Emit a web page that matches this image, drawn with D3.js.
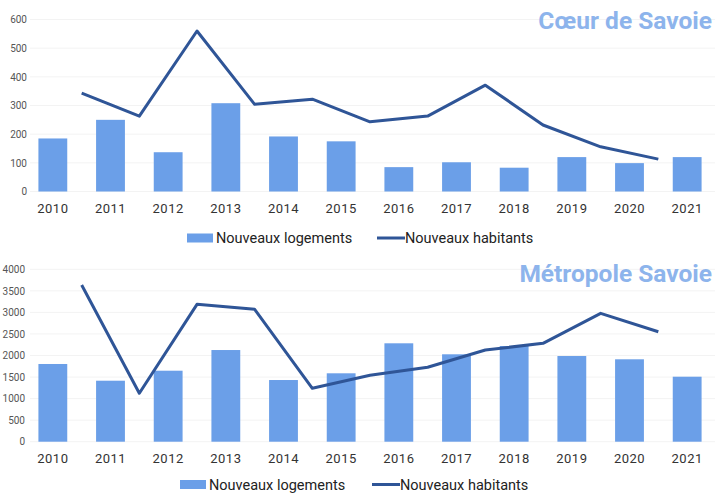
<!DOCTYPE html>
<html>
<head>
<meta charset="utf-8">
<script src="https://cdn.jsdelivr.net/npm/d3@7"></script>
<style>
  body { margin: 0; background: #fff; }
  svg { display: block; font-family: Roboto, "Noto Sans", sans-serif; }
</style>
</head>
<body>
<div id="chart-area"></div>
<script>
// years shown on the x axis
let years = ["2010", "2011", "2012", "2013", "2014", "2015", "2016", "2017", "2018", "2019", "2020", "2021"];

// Coeur de Savoie
let coeurLogements = [185, 250, 137, 308, 192, 175, 85, 102, 83, 120, 99, 120];
// new inhabitants are drawn between two years (2010/2011 ... 2020/2021)
let coeurHabitants = [343, 263, 560, 304, 322, 243, 263, 371, 232, 156, 113];
let coeurTicks = [0, 100, 200, 300, 400, 500, 600];

// Metropole Savoie
let metroLogements = [1803, 1415, 1647, 2127, 1431, 1587, 2283, 2028, 2220, 1988, 1912, 1508];
let metroHabitants = [3635, 1123, 3187, 3071, 1239, 1540, 1726, 2127, 2283, 2979, 2552];
let metroTicks = [0, 500, 1000, 1500, 2000, 2500, 3000, 3500, 4000];

let barColor = "#6b9fe8",
    lineColor = "#2f5597",
    titleColor = "#8db4ec";

let svg = d3.select("#chart-area")
    .append("svg")
    .attr("width", 715)
    .attr("height", 494);

function drawPanel(opts) {
    let g = svg.append("g");

    let x = d3.scaleBand()
        .domain(years)
        .range([24, 716])
        .paddingInner(0.5)
        .paddingOuter(0.25);

    let y = d3.scaleLinear()
        .domain([0, d3.max(opts.ticks)])
        .range([opts.bottom, opts.top]);

    // faint gridlines
    g.selectAll(".grid")
        .data(opts.ticks)
        .enter()
        .append("line")
        .attr("x1", 30)
        .attr("x2", 715)
        .attr("y1", d => y(d))
        .attr("y2", d => y(d))
        .attr("stroke", "#f3f3f3")
        .attr("stroke-width", 1);

    // y axis
    let yAxis = d3.axisLeft(y)
        .tickValues(opts.ticks)
        .tickFormat(d3.format("d"))
        .tickSize(0)
        .tickPadding(0);
    g.append("g")
        .attr("transform", "translate(" + opts.yLabelX + ",0)")
        .call(yAxis)
        .call(a => a.select(".domain").remove())
        .selectAll("text")
        .attr("font-size", "10px")
        .attr("fill", "#555")
        .attr("font-family", "Roboto, sans-serif");

    // x axis
    let xAxis = d3.axisBottom(x).tickSize(0).tickPadding(0);
    g.append("g")
        .attr("transform", "translate(0," + (opts.bottom + 12) + ")")
        .call(xAxis)
        .call(a => a.select(".domain").remove())
        .selectAll("text")
        .attr("font-size", "13px")
        .attr("letter-spacing", "0.5px")
        .attr("fill", "#333")
        .attr("font-family", "Roboto, sans-serif");

    // bars
    g.selectAll(".bar")
        .data(opts.logements)
        .enter()
        .append("rect")
        .attr("class", "bar")
        .attr("x", (d, i) => x(years[i]))
        .attr("y", d => y(d))
        .attr("width", x.bandwidth())
        .attr("height", d => y(0) - y(d))
        .attr("fill", barColor);

    // line, points sit between two years
    let line = d3.line()
        .x((d, i) => x(years[i]) + x.bandwidth() / 2 + x.step() / 2)
        .y(d => y(d));

    g.append("path")
        .datum(opts.habitants)
        .attr("d", line)
        .attr("fill", "none")
        .attr("stroke", lineColor)
        .attr("stroke-width", 3)
        .attr("stroke-linejoin", "round");

    // title
    g.append("text")
        .attr("x", 712)
        .attr("y", opts.titleY)
        .attr("text-anchor", "end")
        .attr("font-size", "24.5px")
        .attr("font-weight", "bold")
        .attr("fill", titleColor)
        .text(opts.title);

    // legend
    let leg = g.append("g")
        .attr("transform", "translate(" + opts.legendX + "," + opts.legendY + ")");
    leg.append("rect")
        .attr("x", 0)
        .attr("y", -9.5)
        .attr("width", 26)
        .attr("height", 9)
        .attr("fill", barColor);
    leg.append("text")
        .attr("x", 29)
        .attr("y", 0)
        .attr("font-size", "14.5px")
        .attr("fill", "#222")
        .text("Nouveaux logements");
    leg.append("line")
        .attr("x1", opts.legendLineX)
        .attr("x2", opts.legendLineX + 28)
        .attr("y1", -5)
        .attr("y2", -5)
        .attr("stroke", lineColor)
        .attr("stroke-width", 3);
    leg.append("text")
        .attr("x", opts.legendLineX + 28)
        .attr("y", 0)
        .attr("font-size", "14.5px")
        .attr("fill", "#222")
        .text("Nouveaux habitants");
}

drawPanel({
    title: "Cœur de Savoie",
    logements: coeurLogements,
    habitants: coeurHabitants,
    ticks: coeurTicks,
    top: 19.5,
    bottom: 191.5,
    yLabelX: 27,
    titleY: 29,
    legendX: 187,
    legendY: 243,
    legendLineX: 190
});

drawPanel({
    title: "Métropole Savoie",
    logements: metroLogements,
    habitants: metroHabitants,
    ticks: metroTicks,
    top: 269.3,
    bottom: 441.7,
    yLabelX: 25,
    titleY: 282,
    legendX: 180,
    legendY: 489.5,
    legendLineX: 192
});
</script>
</body>
</html>
